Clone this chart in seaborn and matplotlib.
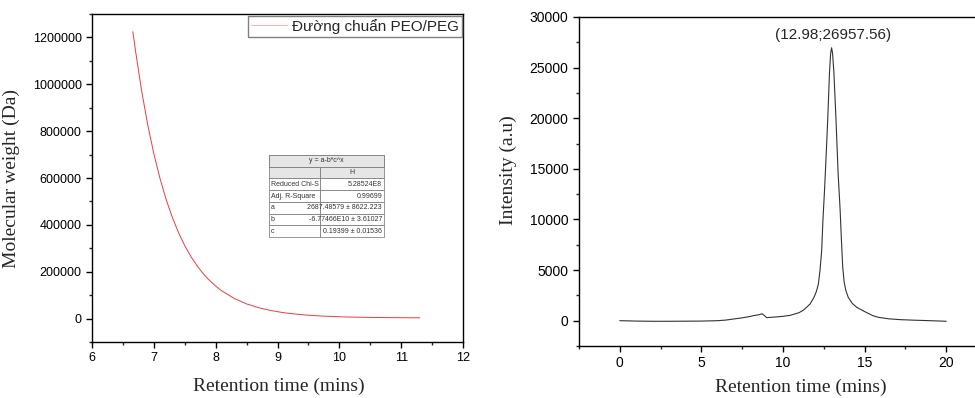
import numpy as np
import pandas as pd
from matplotlib import pyplot as plt
from matplotlib.ticker import MultipleLocator
from matplotlib.patches import Rectangle
import seaborn as sns

# calibration curve
rt_cal = [6.66, 6.7, 6.8, 6.9, 7.0, 7.1, 7.2, 7.3, 7.4, 7.5, 7.6, 7.7, 7.8, 7.9, 8.0,
          8.1, 8.3, 8.5, 8.7, 8.9, 9.1, 9.3, 9.5, 9.7, 9.9, 10.1, 10.3, 10.5, 10.7,
          10.9, 11.1, 11.3]
mw_cal = [1225000, 1148000, 975000, 828000, 703000, 597000, 507000, 431000, 366000,
          311000, 264500, 225000, 191000, 163000, 138500, 118000, 86000, 62500, 46000,
          34000, 25000, 19000, 14300, 11000, 8700, 7000, 5800, 4900, 4300, 3900, 3500, 3300]

# chromatogram
rt_gpc = [0.0, 1.0, 2.0, 3.0, 4.0, 5.0, 6.0, 6.5, 7.0, 7.5, 8.0, 8.2, 8.5, 8.72, 8.85,
          9.0, 9.5, 10.0, 10.43, 11.0, 11.3, 11.66, 11.9, 12.05, 12.17, 12.27, 12.37,
          12.45, 12.55, 12.65, 12.74, 12.85, 12.92, 12.98, 13.04, 13.12, 13.25, 13.38,
          13.5, 13.58, 13.66, 13.75, 13.85, 14.0, 14.25, 14.52, 15.0, 15.5, 15.85, 16.5,
          17.2, 18.0, 19.0, 20.0]
intensity = [0, -40, -60, -60, -50, -40, 0, 60, 170, 280, 420, 500, 580, 680, 520,
             300, 360, 430, 520, 800, 1100, 1650, 2300, 2900, 3630, 5000, 6900,
             10000, 13000, 16500, 19800, 24500, 26400, 26957.56, 26400, 24500, 19800, 14500,
             11000, 8000, 5300, 3800, 3000, 2300, 1700, 1320, 900, 500, 330, 180,
             100, 50, 0, -60]

peak_label = '(12.98;26957.56)'
legend_label = 'Đường chuẩn PEO/PEG'

fit_title = 'y = a-b*c^x'
fit_rows = ['Reduced Chi-S', 'Adj. R-Square', 'a', 'b', 'c']
fit_vals = ['5.28524E8', '0.99699', '2687.48579 ± 8622.223',
            '-6.77466E10 ± 3.61027', '0.19399 ± 0.01536']

sns.set_style("ticks")
plt.rcParams['font.family'] = ['Liberation Sans', 'DejaVu Sans']
serif = ['Liberation Serif', 'DejaVu Serif']

df_cal = pd.DataFrame({'rt': rt_cal, 'mw': mw_cal})
df_gpc = pd.DataFrame({'rt': rt_gpc, 'I': intensity})

fig = plt.figure(figsize=(9.75, 3.98), dpi=100)
ax0 = fig.add_axes([0.0944, 0.1407, 0.3805, 0.8241])
ax1 = fig.add_axes([0.5938, 0.1307, 0.4185, 0.8266])

sns.lineplot(data=df_cal, x='rt', y='mw', ax=ax0, color='#f23a3a', lw=0.7,
             label=legend_label)
sns.lineplot(data=df_gpc, x='rt', y='I', ax=ax1, color='#333333', lw=0.8)

ax0.set_xlim(6, 12)
ax0.set_ylim(-100000, 1300000)
ax0.xaxis.set_major_locator(MultipleLocator(1))
ax0.xaxis.set_minor_locator(MultipleLocator(0.5))
ax0.yaxis.set_major_locator(MultipleLocator(200000))
ax0.yaxis.set_minor_locator(MultipleLocator(100000))
ax0.ticklabel_format(style='plain', axis='y')

ax1.set_xlim(-2.5, 22.5)
ax1.set_ylim(-2500, 30000)
ax1.xaxis.set_major_locator(MultipleLocator(5))
ax1.xaxis.set_minor_locator(MultipleLocator(2.5))
ax1.yaxis.set_major_locator(MultipleLocator(5000))
ax1.yaxis.set_minor_locator(MultipleLocator(2500))

for ax, lsize in ((ax0, 9), (ax1, 10)):
    for s in ax.spines.values():
        s.set_visible(True)
        s.set_color('black')
        s.set_linewidth(1.0)
    ax.tick_params(which='major', direction='out', length=4.5, width=1, labelsize=lsize,
                   pad=3, colors='black', top=False, right=False)
    ax.tick_params(which='minor', direction='out', length=2.5, width=1,
                   top=False, right=False)

ax0.set_xlabel('Retention time (mins)', family=serif, fontsize=14)
ax0.set_ylabel('Molecular weight (Da)', family=serif, fontsize=14)
ax0.xaxis.set_label_coords(0.504, -0.11)
ax0.yaxis.set_label_coords(-0.194, 0.5)

ax1.set_xlabel('Retention time (mins)', family=serif, fontsize=14)
ax1.set_ylabel('Intensity (a.u)', family=serif, fontsize=14)
ax1.xaxis.set_label_coords(0.544, -0.1)
ax1.yaxis.set_label_coords(-0.152, 0.535)

leg = ax0.legend(loc='upper right', bbox_to_anchor=(0.997, 0.995), borderaxespad=0,
                 fancybox=False, fontsize=11, handlelength=2.3, borderpad=0.2,
                 handletextpad=0.35, framealpha=1)
leg.get_frame().set_edgecolor('#808080')
leg.get_frame().set_linewidth(1.0)
for h in leg.get_lines():
    h.set_color('#f8b4b4')

ax1.text(13.07, 28200, peak_label, ha='center', va='center', fontsize=11)

# fit result table
tx, ty, tw, th = 0.477, 0.32, 0.31, 0.25
cells = [['', ''], ['', 'H']] + [[r, v] for r, v in zip(fit_rows, fit_vals)]
tab = ax0.table(cellText=cells, bbox=[tx, ty, tw, th], colWidths=[0.44, 0.56])
tab.auto_set_font_size(False)
for (r, c), cell in tab.get_celld().items():
    cell.set_linewidth(0.5)
    cell.set_edgecolor('#707070')
    cell.get_text().set_fontsize(5)
    cell.get_text().set_color('#333333')
    cell.PAD = 0.03
    if r < 2:
        cell.set_facecolor('#e6e6e6')
        cell.get_text().set_ha('center')
    else:
        cell.get_text().set_ha('left' if c == 0 else 'right')
        cell._loc = 'left' if c == 0 else 'right'
# merged title row
ax0.add_patch(Rectangle((tx, ty + th * 6 / 7), tw, th / 7, transform=ax0.transAxes,
                        facecolor='#e6e6e6', edgecolor='#707070', lw=0.5, zorder=20))
ax0.text(tx + tw / 2, ty + th * 13 / 14, fit_title, transform=ax0.transAxes,
         ha='center', va='center', fontsize=5, color='#333333', zorder=21)

fig.savefig('out.png', dpi=100)
